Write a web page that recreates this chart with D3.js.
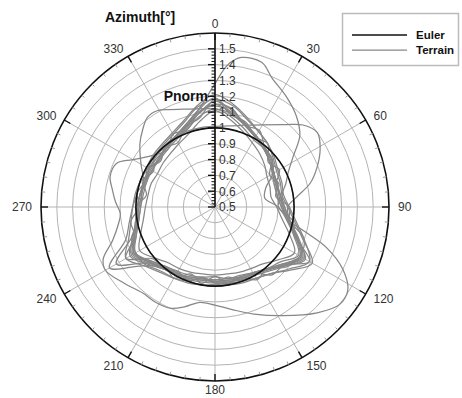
<!DOCTYPE html>
<html><head><meta charset="utf-8">
<script src="https://cdn.jsdelivr.net/npm/d3@7/dist/d3.min.js"></script>
<style>
body{margin:0;background:#fff;}
svg{display:block;font-family:"Liberation Sans",Arial,Helvetica,sans-serif;}
</style>
</head><body>
<svg id="chart" width="462" height="398"></svg>
<script>
// ---------- data ----------
const azimuths = [0,10,20,30,40,50,60,70,80,90,100,110,120,130,140,150,160,170,180,190,200,210,220,230,240,250,260,270,280,290,300,310,320,330,340,350];
const azimuthTicks = [0,30,60,90,120,150,180,210,240,270,300,330];
const pnormTicks = [0.5,0.6,0.7,0.8,0.9,1.0,1.1,1.2,1.3,1.4,1.5];
const pnormTickLabels = ["0.5","0.6","0.7","0.8","0.9","1","1.1","1.2","1.3","1.4","1.5"];

const euler = [1,1,1,1,1,1,1,1,1,1,1,1,1,1,1,1,1,1,1,1,1,1,1,1,1,1,1,1,1,1,1,1,1,1,1,1];

// terrain runs sampled on the azimuths above
const terrain1 = [1.17,1.12,1.06,1.02,0.99,0.96,0.93,0.92,0.91,0.93,0.97,1.05,1.14,1.07,1.02,0.99,0.98,0.97,0.97,0.97,0.98,0.99,1.00,1.04,1.10,1.04,1.00,0.98,0.97,0.97,0.97,0.97,0.98,1.00,1.03,1.10];
const terrain2 = [1.21,1.16,1.10,1.05,1.02,0.99,0.96,0.95,0.94,0.97,1.02,1.10,1.19,1.11,1.05,1.02,1.01,1.00,1.00,1.00,1.01,1.02,1.04,1.08,1.15,1.08,1.04,1.02,1.01,1.00,1.00,1.01,1.02,1.04,1.08,1.15];
const terrain3 = [1.11,1.06,1.01,0.97,0.94,0.91,0.88,0.87,0.86,0.89,0.93,1.00,1.08,1.02,0.97,0.95,0.94,0.93,0.93,0.93,0.94,0.95,0.96,1.00,1.05,1.00,0.96,0.94,0.93,0.93,0.92,0.93,0.94,0.96,0.99,1.05];
const terrain4 = [1.15,1.13,1.05,1.06,0.99,0.97,0.90,0.93,0.89,0.97,0.98,1.10,1.12,1.09,1.01,1.03,0.97,0.99,0.94,0.99,0.95,1.02,0.99,1.07,1.08,1.06,0.99,1.00,0.94,0.99,0.95,1.00,0.97,1.03,1.02,1.10];
const terrain5 = [1.19,1.10,1.05,1.01,0.98,0.97,0.92,0.84,0.82,0.90,0.96,1.04,1.16,1.08,1.01,0.98,0.97,0.99,0.98,0.96,0.99,0.98,1.01,1.06,1.12,1.05,0.99,0.99,0.98,0.96,0.98,0.96,0.99,1.01,1.05,1.12];
const terrain6 = [1.18,1.09,1.07,1.01,1.02,0.94,0.97,0.91,0.92,0.90,1.00,1.04,1.19,1.07,1.06,0.98,0.99,0.95,0.98,0.95,1.00,0.97,1.01,1.01,1.15,1.04,1.04,0.98,1.00,0.97,0.99,0.95,0.99,0.97,1.04,1.07];
const terrain7 = [1.12,1.08,1.03,0.99,0.98,0.95,0.93,0.91,0.90,0.92,0.96,1.03,1.11,1.04,1.01,0.98,0.96,0.96,0.94,0.95,0.96,0.97,0.99,1.03,1.09,1.03,0.99,0.97,0.96,0.96,0.96,0.96,0.97,0.99,1.02,1.08];
const terrain8 = [1.18,1.15,1.09,1.05,1.02,0.98,0.95,0.94,0.93,0.96,1.01,1.09,1.21,1.12,1.05,1.02,1.00,0.99,0.99,1.00,1.00,1.02,1.03,1.08,1.27,1.10,1.05,1.02,1.00,1.00,0.99,1.00,1.01,1.03,1.07,1.14];
const terrain9 = [1.14,1.11,1.06,1.02,0.99,0.97,0.93,0.92,0.92,0.94,0.98,1.05,1.13,1.07,1.02,0.99,0.98,0.98,0.97,0.96,0.97,0.99,1.00,1.05,1.22,1.06,1.00,0.99,0.98,0.97,0.98,0.98,0.98,1.01,1.04,1.11];

// terrain runs with their own azimuth sampling: [azimuth, Pnorm]
const terrainA = [[0,1.28],[5,1.40],[10,1.46],[18,1.46],[24,1.39],[33,1.33],[42,1.27],[50,1.20],[57,1.09],[65,1.01],[72,0.97],[80,0.93],[90,0.94],[100,0.98],[110,1.05],[120,1.13],[130,1.06],[140,1.01],[150,0.99],[160,0.98],[170,0.97],[180,0.96],[190,0.97],[200,0.98],[210,0.99],[220,1.01],[230,1.04],[240,1.09],[250,1.04],[260,1.01],[270,0.99],[280,0.98],[290,0.97],[300,0.96],[310,0.97],[320,0.99],[330,1.01],[340,1.05],[350,1.12]];
const terrainB = [[0,1.01],[10,1.02],[20,1.05],[30,1.10],[40,1.18],[47,1.26],[54,1.30],[61,1.26],[69,1.19],[76,1.12],[83,1.02],[90,0.96],[100,0.98],[110,1.06],[120,1.15],[130,1.08],[140,1.03],[150,1.00],[160,0.99],[170,0.98],[180,0.98],[190,0.98],[200,0.99],[210,1.00],[220,1.01],[230,1.05],[240,1.11],[250,1.05],[260,1.01],[270,0.99],[280,0.98],[290,0.98],[300,0.98],[310,0.99],[320,1.00],[330,1.01],[340,1.01],[350,1.01]];
const terrainC = [[0,1.12],[10,1.10],[20,1.05],[30,1.01],[40,0.98],[50,0.95],[60,0.92],[70,0.90],[80,0.90],[90,0.92],[100,0.97],[110,1.04],[120,1.12],[130,1.06],[140,1.01],[150,0.98],[160,0.97],[170,0.96],[180,0.96],[190,0.96],[200,0.97],[210,0.98],[220,0.99],[230,1.03],[240,1.08],[250,1.03],[260,0.99],[270,0.97],[280,0.97],[290,0.98],[300,1.04],[310,1.12],[317,1.17],[323,1.21],[329,1.21],[335,1.18],[342,1.15],[350,1.13]];
const terrainD = [[0,1.15],[10,1.10],[20,1.05],[30,1.01],[40,0.98],[50,0.95],[60,0.92],[70,0.91],[80,0.92],[90,0.93],[100,0.97],[105,1.08],[110,1.25],[116,1.40],[122,1.49],[128,1.50],[136,1.43],[148,1.31],[160,1.22],[170,1.16],[180,1.12],[189,1.11],[197,1.16],[204,1.20],[212,1.21],[220,1.21],[230,1.25],[240,1.30],[245,1.28],[252,1.18],[260,1.12],[266,1.10],[273,1.13],[280,1.16],[286,1.19],[294,1.18],[300,1.10],[310,1.01],[320,0.99],[330,1.01],[340,1.04],[350,1.10]];

const sampledRuns = [terrain1,terrain2,terrain3,terrain4,terrain5,terrain6,terrain7,terrain8,terrain9];
const pairedRuns = [terrainA,terrainB,terrainC,terrainD];

// ---------- drawing ----------
const svg = d3.select("#chart");
const cx = 215, cy = 207, R = 174;
const rScale = d3.scaleLinear().domain([0.5,1.6]).range([0,R]);
const toRad = d => d*Math.PI/180;
const g = svg.append("g").attr("transform",`translate(${cx},${cy})`);

const gridColor = "#b4b4b4";
const rings = pnormTicks.filter(v => v > 0.5);
g.selectAll("circle.ring").data(rings).enter().append("circle")
  .attr("r", d => rScale(d)).attr("fill","none").attr("stroke",gridColor).attr("stroke-width",1);
g.selectAll("line.spoke").data(azimuthTicks).enter().append("line")
  .attr("x1",0).attr("y1",0)
  .attr("x2", d => R*Math.sin(toRad(d))).attr("y2", d => -R*Math.cos(toRad(d)))
  .attr("stroke",gridColor).attr("stroke-width",1);

const line = d3.lineRadial()
  .angle(d => toRad(d[0])).radius(d => rScale(d[1]))
  .curve(d3.curveCatmullRomClosed.alpha(0.5));
const terrainColor = "#878787";
sampledRuns.forEach(run => {
  g.append("path").datum(azimuths.map((a,i)=>[a,run[i]]))
    .attr("d",line).attr("fill","none").attr("stroke",terrainColor).attr("stroke-width",1.25);
});
pairedRuns.forEach(run => {
  g.append("path").datum(run)
    .attr("d",line).attr("fill","none").attr("stroke",terrainColor).attr("stroke-width",1.25);
});
g.append("path").datum(azimuths.map((a,i)=>[a,euler[i]]))
  .attr("d",line).attr("fill","none").attr("stroke","#111").attr("stroke-width",1.6);

g.append("circle").attr("r",R).attr("fill","none").attr("stroke","#111").attr("stroke-width",1.6);

const minorAz = d3.range(0,360,5).filter(a => a % 30 !== 0);
g.selectAll("line.minAz").data(minorAz).enter().append("line")
  .attr("x1", d => R*Math.sin(toRad(d))).attr("y1", d => -R*Math.cos(toRad(d)))
  .attr("x2", d => (R-3.5)*Math.sin(toRad(d))).attr("y2", d => -(R-3.5)*Math.cos(toRad(d)))
  .attr("stroke","#999").attr("stroke-width",1);
g.selectAll("line.majAz").data(azimuthTicks).enter().append("line")
  .attr("x1", d => R*Math.sin(toRad(d))).attr("y1", d => -R*Math.cos(toRad(d)))
  .attr("x2", d => (R-7)*Math.sin(toRad(d))).attr("y2", d => -(R-7)*Math.cos(toRad(d)))
  .attr("stroke","#111").attr("stroke-width",1.4);

const LR = 183;
g.selectAll("text.az").data(azimuthTicks).enter().append("text")
  .attr("x", d => LR*Math.sin(toRad(d)))
  .attr("y", d => -LR*Math.cos(toRad(d)))
  .attr("text-anchor", d => { const s = Math.sin(toRad(d)); return s > 0.1 ? "start" : (s < -0.1 ? "end" : "middle"); })
  .attr("dy","0.36em")
  .attr("font-size",12).attr("fill","#333")
  .text(d => d);

g.append("line").attr("x1",0).attr("y1",0).attr("x2",0).attr("y2",-R)
  .attr("stroke","#111").attr("stroke-width",1.6);
const minorP = d3.range(0,51).map(i => 0.5 + i*0.02).filter((v,i) => i % 5 !== 0);
g.selectAll("line.minP").data(minorP).enter().append("line")
  .attr("x1",-3.5).attr("x2",0).attr("y1", d => -rScale(d)).attr("y2", d => -rScale(d))
  .attr("stroke","#111").attr("stroke-width",1);
g.selectAll("line.majP").data(pnormTicks).enter().append("line")
  .attr("x1",-7).attr("x2",0).attr("y1", d => -rScale(d)).attr("y2", d => -rScale(d))
  .attr("stroke","#111").attr("stroke-width",1.4);
g.selectAll("text.p").data(pnormTicks).enter().append("text")
  .attr("x",4).attr("y", d => -rScale(d)).attr("dy","0.36em")
  .attr("font-size",12).attr("fill","#333")
  .text((d,i) => pnormTickLabels[i]);

svg.append("text").attr("x",105).attr("y",22).attr("font-size",14).attr("font-weight","bold").attr("fill","#111").text("Azimuth[°]");
svg.append("text").attr("x",208).attr("y",101).attr("text-anchor","end").attr("font-size",14).attr("font-weight","bold").attr("fill","#111").text("Pnorm");

const lg = svg.append("g");
lg.append("rect").attr("x",342.5).attr("y",13.5).attr("width",116).attr("height",52)
  .attr("fill","#fff").attr("stroke","#bbb").attr("stroke-width",1.5);
const legendItems = [["Euler","#111",1.6],["Terrain",terrainColor,1.25]];
legendItems.forEach((it,i) => {
  const y = 35 + i*15;
  lg.append("line").attr("x1",352).attr("x2",407).attr("y1",y).attr("y2",y).attr("stroke",it[1]).attr("stroke-width",it[2]);
  lg.append("text").attr("x",416).attr("y",y).attr("dy","0.36em").attr("font-size",11.5).attr("font-weight","bold").attr("fill","#111").text(it[0]);
});
</script>
</body></html>
